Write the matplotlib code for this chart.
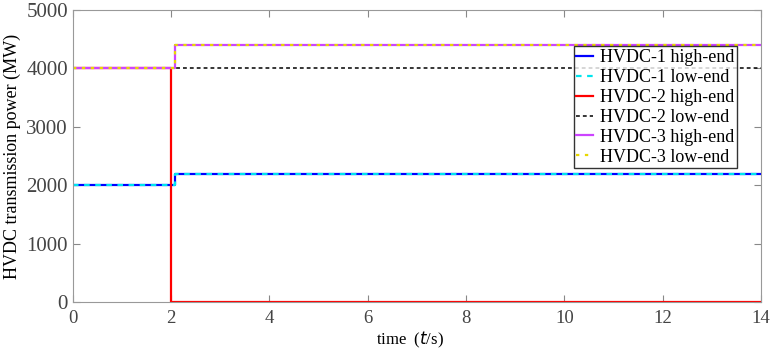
import numpy as np
import matplotlib
matplotlib.use("Agg")
import matplotlib.pyplot as plt

plt.rcParams["font.family"] = ["Liberation Serif", "DejaVu Serif"]

# time breakpoints (s) and power levels (MW)
t_end = 14
t_trip = 2.0
t_step = 2.08

hvdc1_before, hvdc1_after = 2000, 2200
hvdc2_before, hvdc2_after = 4000, 0
hvdc2_low = 4000
hvdc3_before, hvdc3_after = 4000, 4400

xticks = [0, 2, 4, 6, 8, 10, 12, 14]
yticks = [0, 1000, 2000, 3000, 4000, 5000]

t1 = [0, t_step, t_step, t_end]
t2 = [0, t_trip, t_trip, t_end]

fig = plt.figure(figsize=(7.75, 3.57), dpi=100)
ax = fig.add_axes([0.094, 0.154, 0.888, 0.818])

ax.plot(t1, [hvdc1_before, hvdc1_before, hvdc1_after, hvdc1_after], color="#0000ff", lw=1.6, label="HVDC-1 high-end")
ax.plot(t1, [hvdc1_before, hvdc1_before, hvdc1_after, hvdc1_after], color="#00e5ee", lw=1.6, ls=(0, (2.5, 2.5)), label="HVDC-1 low-end")
ax.plot(t2, [hvdc2_before, hvdc2_before, hvdc2_after, hvdc2_after], color="#ff0000", lw=1.6, label="HVDC-2 high-end")
ax.plot([0, t_end], [hvdc2_low, hvdc2_low], color="black", lw=1.1, ls=(0, (2.5, 2)), label="HVDC-2 low-end")
ax.plot(t1, [hvdc3_before, hvdc3_before, hvdc3_after, hvdc3_after], color="#cc44ff", lw=1.6, label="HVDC-3 high-end")
ax.plot(t1, [hvdc3_before, hvdc3_before, hvdc3_after, hvdc3_after], color="#e8d800", lw=1.6, ls=(0, (1.5, 2.5)), label="HVDC-3 low-end")

ax.set_xlim(0, 14)
ax.set_ylim(0, 5000)
ax.set_xticks(xticks)
ax.set_yticks(yticks)
ax.tick_params(direction="in", top=True, right=True, labelsize=15, color="#888888",
               labelcolor="#444444", length=5)
ax.tick_params(axis="x", labelsize=13.5, pad=6)
for s in ax.spines.values():
    s.set_color("#999999")

ax.set_xlabel("time  ($\\mathit{t}$/s)", fontsize=12)
ax.xaxis.set_label_coords(0.49, -0.095)
ax.set_ylabel("HVDC transmission power (MW)", fontsize=13)

leg = ax.legend(loc="upper right", bbox_to_anchor=(0.965, 0.875), fontsize=13, frameon=True, fancybox=False,
                handlelength=0.9, handletextpad=0.4, borderpad=0.15, labelspacing=0.16, borderaxespad=0)
leg.get_frame().set_edgecolor("black")
leg.get_frame().set_linewidth(1.0)

fig.savefig("out.png", dpi=100)
